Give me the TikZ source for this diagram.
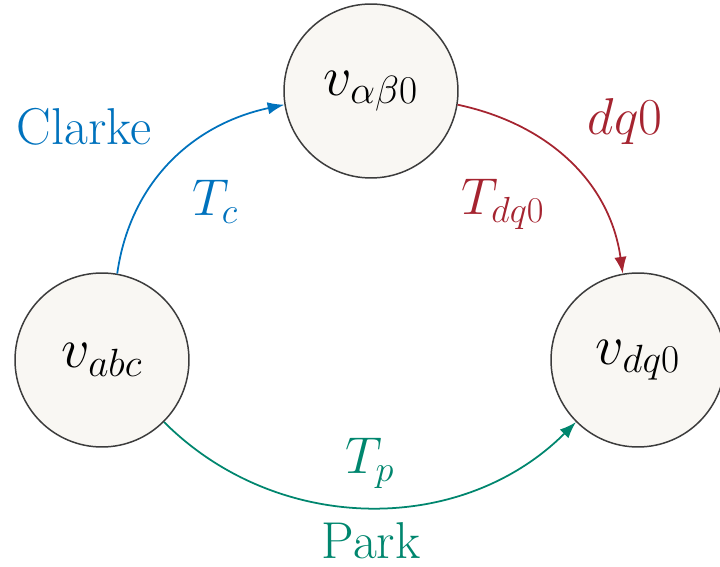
\RequirePackage{fix-cm}
\documentclass[tikz,border=0pt]{standalone}
\usetikzlibrary{arrows.meta}
\definecolor{cblue}{RGB}{0,114,189}
\definecolor{cred}{RGB}{165,36,48}
\definecolor{cgreen}{RGB}{0,134,110}
\definecolor{cfill}{RGB}{249,247,243}
\definecolor{cborder}{RGB}{60,60,60}
\tikzset{
  state/.style={circle, draw=cborder, fill=cfill, line width=0.85pt, minimum size=3.48cm, inner sep=0pt, font=\fontsize{32}{38}\selectfont},
  lbl/.style={font=\fontsize{29.5}{35}\selectfont, inner sep=0pt},
  conn/.style={line width=1pt, -{Latex[length=9.5pt,width=7pt]}},
}
\begin{document}
\begin{tikzpicture}[x=0.02cm,y=-0.02cm]
\useasboundingbox (0,0) rectangle (720,567);
\node[state] (abc) at (102,360) {$v_{abc}$};
\node[state] (ab0) at (371,91) {$v_{\alpha\beta0}$};
\node[state] (dq0) at (638,360) {$v_{dq0}$};
\draw[conn, cblue] (abc.80) to[out=82, in=192] (ab0.189);
\draw[conn, cred] (ab0.-9) to[out=-12, in=98] (dq0.100);
\draw[conn, cgreen] (abc.-45) to[out=-45, in=-135] (dq0.-135);
\node[lbl, text=cblue] (clarke) at (84,127) {Clarke};
\node[lbl, text=cblue] (tc) at (215,202) {$T_c$};
\node[lbl, text=cred] (dqlbl) at (625,122) {$dq0$};
\node[lbl, text=cred] (tdq) at (503,204) {$T_{dq0}$};
\node[lbl, text=cgreen] (tp) at (370,463) {$T_p$};
\node[lbl, text=cgreen] (park) at (371,541) {Park};
\end{tikzpicture}
\end{document}
